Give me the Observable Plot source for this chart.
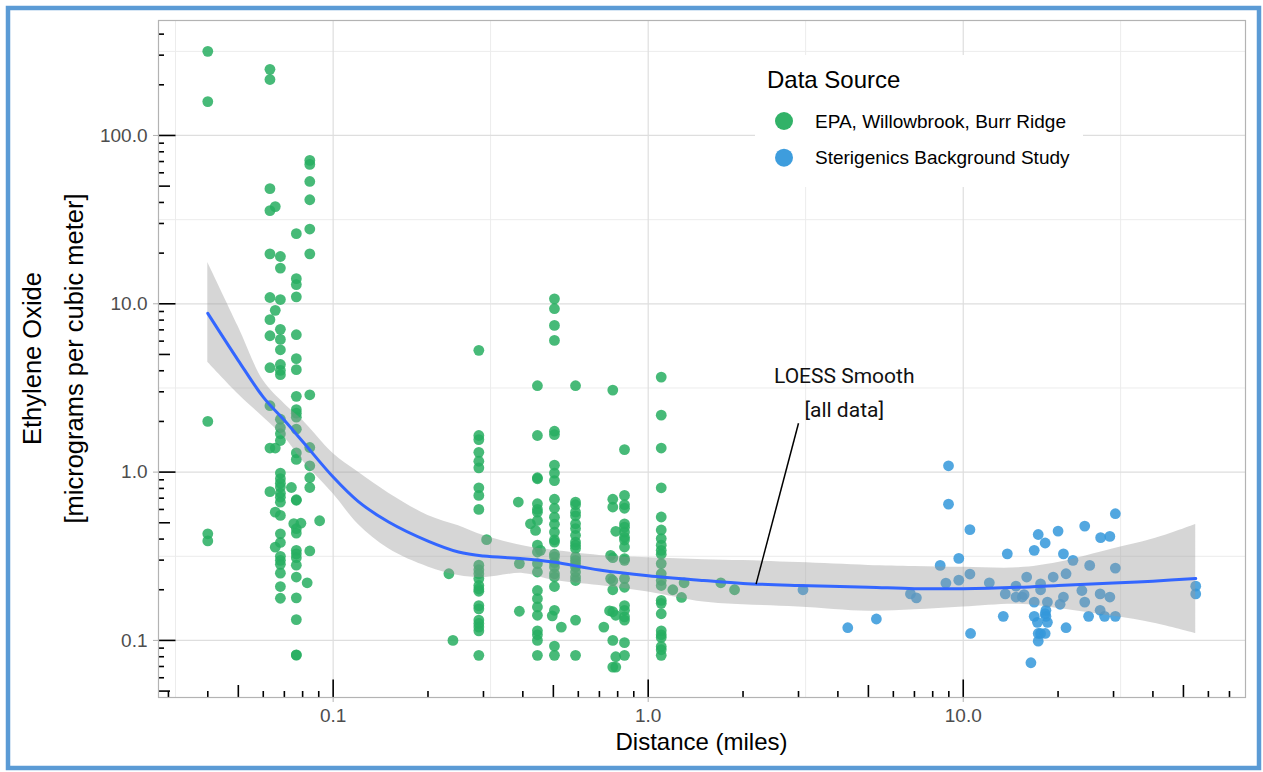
<!DOCTYPE html>
<html>
<head>
<meta charset="utf-8">
<script src="https://cdn.jsdelivr.net/npm/d3@7"></script>
<script src="https://cdn.jsdelivr.net/npm/@observablehq/plot@0.6"></script>
<style>
  html, body { margin: 0; padding: 0; background: #ffffff; }
  #chart { width: 1263px; height: 772px; }
</style>
</head>
<body>
<div id="chart"></div>
<script>
// ---------------- DATA ----------------
const sourceNames = ["EPA, Willowbrook, Burr Ridge", "Sterigenics Background Study"];
const sourceColors = ["#27ae60", "#3498db"];

// EPA / Willowbrook / Burr Ridge: distance (miles) of each site and its readings (µg/m³)
const epaSites = [0.04, 0.063, 0.0655, 0.068, 0.0737, 0.075, 0.0764, 0.079, 0.0827, 0.0843, 0.0906,
  0.233, 0.24, 0.29, 0.307, 0.387, 0.39, 0.423, 0.439, 0.445, 0.455, 0.496, 0.504, 0.53, 0.588,
  0.723, 0.754, 0.76, 0.772, 0.789, 0.841, 1.10, 1.197, 1.276, 1.3, 1.7, 1.88];
const epaReadings = [
  [316, 159, 2.0, 0.43, 0.39],
  [247, 215, 48.3, 35.8, 19.8, 10.9, 8.05, 6.46, 4.17, 2.48, 1.39, 0.765],
  [37.8, 9.14, 1.39, 0.578, 0.358],
  [19.1, 16.3, 10.6, 7.05, 6.14, 5.33, 4.36, 4.02, 3.79, 2.06, 1.84, 1.69, 1.54, 0.987, 0.914, 0.86, 0.815, 0.75, 0.71, 0.663, 0.553, 0.43, 0.382, 0.316, 0.299, 0.283, 0.251, 0.209, 0.178],
  [0.81],
  [0.494],
  [26.1, 14.1, 13.0, 11.0, 6.55, 4.72, 4.06, 2.82, 2.35, 2.24, 2.12, 1.8, 1.3, 1.19, 0.685, 0.68, 0.461, 0.434, 0.343, 0.327, 0.31, 0.28, 0.238, 0.179, 0.133, 0.0818, 0.082],
  [0.497],
  [0.22],
  [71.1, 67.3, 53.3, 41.5, 27.8, 19.8, 2.88, 1.40, 1.09, 0.926, 0.81, 0.34],
  [0.514],
  [0.249],
  [0.1],
  [5.29, 1.65, 1.56, 1.31, 1.16, 1.06, 0.807, 0.727, 0.6, 0.28, 0.263, 0.249, 0.233, 0.212, 0.202, 0.196, 0.161, 0.154, 0.132, 0.126, 0.12, 0.114, 0.0815],
  [0.397],
  [0.664],
  [0.286, 0.149],
  [0.493],
  [0.45],
  [3.26, 1.65, 0.926, 0.913, 0.649, 0.6, 0.578, 0.516, 0.368, 0.335, 0.286, 0.255, 0.198, 0.177, 0.158, 0.141, 0.114, 0.108, 0.1, 0.0815],
  [0.343],
  [0.14],
  [10.7, 9.35, 7.44, 6.06, 1.75, 1.67, 1.10, 0.987, 0.89, 0.69, 0.61, 0.54, 0.49, 0.44, 0.395, 0.384, 0.325, 0.313, 0.29, 0.273, 0.249, 0.238, 0.209, 0.151, 0.0925, 0.0815],
  [0.12],
  [3.26, 0.664, 0.64, 0.578, 0.55, 0.493, 0.462, 0.421, 0.384, 0.368, 0.352, 0.313, 0.299, 0.286, 0.273, 0.255, 0.238, 0.227, 0.132, 0.0815],
  [0.12],
  [0.15],
  [0.32, 0.233],
  [3.07, 0.69, 0.62, 0.31, 0.227, 0.2, 0.148, 0.1, 0.0694],
  [0.445, 0.141, 0.08, 0.0694],
  [1.36, 0.727, 0.64, 0.61, 0.493, 0.471, 0.44, 0.41, 0.395, 0.359, 0.306, 0.299, 0.233, 0.207, 0.161, 0.151, 0.138, 0.132, 0.097, 0.0815],
  [3.67, 2.18, 1.39, 0.807, 0.541, 0.453, 0.403, 0.368, 0.343, 0.325, 0.286, 0.249, 0.227, 0.212, 0.173, 0.166, 0.144, 0.114, 0.108, 0.104, 0.092, 0.088, 0.0815],
  [0.2],
  [0.18],
  [0.22],
  [0.22],
  [0.2]
];

// Sterigenics background study
const bgSites = [3.1, 4.3, 5.3, 6.8, 7.1, 8.45, 8.81, 8.98, 9.68, 10.5, 10.55, 12.1, 13.4, 13.6, 13.8,
  14.7, 15.4, 15.6, 15.9, 16.4, 16.8, 17.2, 17.3, 17.6, 18.2, 18.3, 18.5, 19.3, 20.0, 20.3, 20.8,
  21.2, 22.3, 23.8, 24.3, 25, 25.2, 27.2, 27.3, 28.1, 29.2, 30.4, 54.7];
const bgReadings = [
  [0.2], [0.119], [0.134], [0.189], [0.179], [0.279], [0.219], [1.09, 0.645], [0.307, 0.228],
  [0.455, 0.248], [0.11], [0.22], [0.139], [0.189], [0.327], [0.21, 0.181], [0.181], [0.187],
  [0.238], [0.0737], [0.343, 0.169, 0.139], [0.128], [0.426, 0.099, 0.11], [0.217, 0.2, 0.11],
  [0.379, 0.144, 0.11], [0.139, 0.151], [0.128, 0.169], [0.238], [0.446], [0.164], [0.327, 0.181],
  [0.249, 0.119], [0.299], [0.198], [0.478, 0.169], [0.139], [0.279], [0.189, 0.151], [0.408],
  [0.139], [0.415, 0.181], [0.566, 0.269, 0.139], [0.21, 0.189]
];

// LOESS smooth (all data)
const loessDist = [0.04, 0.05, 0.06, 0.07, 0.08, 0.1, 0.12, 0.15, 0.2, 0.25, 0.3, 0.4, 0.5, 0.7, 1.0, 1.5, 2, 3, 5, 7, 10, 15, 20, 30, 40, 54.7];
const loessFit  = [8.77, 4.6, 2.79, 2.03, 1.52, 0.934, 0.67, 0.505, 0.389, 0.335, 0.317, 0.306, 0.292, 0.262, 0.242, 0.227, 0.218, 0.212, 0.207, 0.203, 0.203, 0.207, 0.212, 0.219, 0.225, 0.233];
const loessLow  = [4.49, 2.9, 2.12, 1.61, 1.17, 0.744, 0.49, 0.35, 0.273, 0.243, 0.236, 0.25, 0.228, 0.212, 0.194, 0.169, 0.163, 0.158, 0.149, 0.152, 0.158, 0.164, 0.155, 0.139, 0.127, 0.11];
const loessHigh = [17.6, 7.3, 3.5, 2.55, 2.03, 1.29, 1.0, 0.75, 0.553, 0.48, 0.42, 0.365, 0.343, 0.32, 0.31, 0.302, 0.298, 0.29, 0.279, 0.275, 0.272, 0.27, 0.29, 0.35, 0.40, 0.489];

// Axis ticks
const xTickValues = [0.1, 1, 10];
const xTickLabels = ["0.1", "1.0", "10.0"];
const yTickValues = [0.1, 1, 10, 100];
const yTickLabels = ["0.1", "1.0", "10.0", "100.0"];
const xMinorGrid = [0.0316, 0.316, 3.16, 31.6];
const yMinorGrid = [0.316, 3.16, 31.6, 316];

// Annotation
const annotLabels = ["LOESS Smooth", "[all data]"];
const annotX = [4.19, 4.19];
const annotY = [3.71, 2.33];
const leaderFrom = [2.2, 0.216];
const leaderTo = [3.0, 1.95];

// ---------------- BUILD TABLES ----------------
const points = [];
epaSites.forEach((d, i) => epaReadings[i].forEach(c => points.push({dist: d, conc: c, source: sourceNames[0]})));
bgSites.forEach((d, i) => bgReadings[i].forEach(c => points.push({dist: d, conc: c, source: sourceNames[1]})));
const loess = loessDist.map((d, i) => ({dist: d, fit: loessFit[i], lo: loessLow[i], hi: loessHigh[i]}));
const annots = annotLabels.map((t, i) => ({t, x: annotX[i], y: annotY[i]}));

// log-tick positions (annotation_logticks style)
const xDom = [0.0279, 78.7], yDom = [0.0458, 482];
function logTicks(dom) {
  const out = {long: [], mid: [], short: []};
  for (let e = -3; e <= 3; e++) {
    for (let m = 1; m <= 9; m++) {
      const v = m * Math.pow(10, e);
      if (v < dom[0] || v > dom[1]) continue;
      if (m === 1) out.long.push(v); else if (m === 5) out.mid.push(v); else out.short.push(v);
    }
  }
  return out;
}
const xLT = logTicks(xDom), yLT = logTicks(yDom);

const W = 1263, H = 772;
const mL = 158, mR = 18, mT = 20, mB = 75;
const fw = W - mL - mR, fh = H - mT - mB;
const tickLen = {long: 17.5, mid: 12, short: 6};

const marks = [
  Plot.ruleX(xMinorGrid, {stroke: "#ececec", strokeWidth: 1}),
  Plot.ruleY(yMinorGrid, {stroke: "#ececec", strokeWidth: 1}),
  Plot.ruleX(xTickValues, {stroke: "#dedede", strokeWidth: 1.2}),
  Plot.ruleY(yTickValues, {stroke: "#dedede", strokeWidth: 1.2}),
  Plot.axisX({ticks: xTickValues, tickFormat: d => xTickLabels[xTickValues.indexOf(d)], tickSize: 5, tickPadding: 6,
    fontSize: 19, stroke: "#b3b3b3", fill: "#4d4d4d", label: null}),
  Plot.axisY({ticks: yTickValues, tickFormat: d => yTickLabels[yTickValues.indexOf(d)], tickSize: 5, tickPadding: 6,
    fontSize: 19, stroke: "#b3b3b3", fill: "#4d4d4d", label: null}),
  Plot.dot(points, {x: "dist", y: "conc", fill: "source", r: 5.4, fillOpacity: 0.85}),
  Plot.areaY(loess, {x: "dist", y1: "lo", y2: "hi", fill: "#999999", fillOpacity: 0.4, curve: "catmull-rom"}),
  Plot.line(loess, {x: "dist", y: "fit", stroke: "#3366ff", strokeWidth: 3, curve: "catmull-rom"}),
  Plot.link([0], {x1: () => leaderFrom[0], y1: () => leaderFrom[1], x2: () => leaderTo[0], y2: () => leaderTo[1], stroke: "#000", strokeWidth: 1.5}),
  Plot.text(annots, {x: "x", y: "y", text: "t", fontFamily: "Roboto, sans-serif", fontSize: 21, fill: "#111"}),
];
for (const k of ["long", "mid", "short"]) {
  marks.push(Plot.ruleX(xLT[k], {stroke: "#000", strokeWidth: 1.6, insetTop: fh - tickLen[k]}));
  marks.push(Plot.ruleY(yLT[k], {stroke: "#000", strokeWidth: 1.6, insetRight: fw - tickLen[k]}));
}
marks.push(Plot.frame({stroke: "#b3b3b3", strokeWidth: 1.2}));

const plot = Plot.plot({
  width: W, height: H,
  marginLeft: mL, marginRight: mR, marginTop: mT, marginBottom: mB,
  style: {fontFamily: "'Liberation Sans', Arial, sans-serif", fontSize: "19px", background: "#ffffff"},
  x: {type: "log", domain: xDom, label: null},
  y: {type: "log", domain: yDom, label: null},
  color: {domain: sourceNames, range: sourceColors},
  marks
});

const svg = d3.select(plot);
const font = "'Liberation Sans', Arial, sans-serif";

// Axis titles
svg.append("text").attr("x", (mL + W - mR) / 2).attr("y", 750).attr("text-anchor", "middle")
  .attr("font-family", font).attr("font-size", 24).attr("fill", "#000").text("Distance (miles)");
const cy = (mT + H - mB) / 2;
svg.append("text").attr("transform", `translate(41,${cy}) rotate(-90)`).attr("text-anchor", "middle")
  .attr("font-family", font).attr("font-size", 25.5).attr("fill", "#000").text("Ethylene Oxide");
svg.append("text").attr("transform", `translate(83,${cy}) rotate(-90)`).attr("text-anchor", "middle")
  .attr("font-family", font).attr("font-size", 25.5).attr("fill", "#000").text("[micrograms per cubic meter]");

// Legend
const lg = svg.append("g");
lg.append("rect").attr("x", 755).attr("y", 55).attr("width", 328).attr("height", 132).attr("fill", "#fff");
lg.append("text").attr("x", 767).attr("y", 88).attr("text-anchor", "start").attr("font-family", font).attr("font-size", 24).attr("fill", "#000").text("Data Source");
sourceNames.forEach((name, i) => {
  const y = 121 + i * 36.7;
  lg.append("circle").attr("cx", 784).attr("cy", y).attr("r", 9).attr("fill", sourceColors[i]).attr("fill-opacity", 0.95);
  lg.append("text").attr("x", 815).attr("y", y).attr("dy", "0.35em").attr("text-anchor", "start").attr("font-family", font).attr("font-size", 19).attr("fill", "#000").text(name);
});

// Outer blue frame
svg.append("rect").attr("x", 8).attr("y", 8).attr("width", 1251).attr("height", 760)
  .attr("fill", "none").attr("stroke", "#5b9bd5").attr("stroke-width", 4.5);

document.getElementById("chart").appendChild(plot);
</script>
</body>
</html>
